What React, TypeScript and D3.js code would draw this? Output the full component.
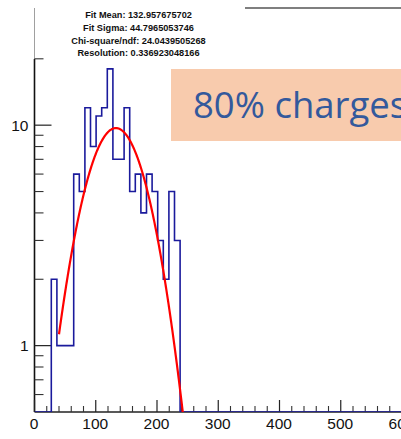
import React from "react";
import * as d3 from "d3";

// Histogram binning: 70 bins over [0, 640]; filled bins start at index 3
const histRange = [0, 640];
const nBins = 70;
const firstFilledBin = 3;
const binCounts = [2, 1, 1, 1, 6, 5, 12, 8, 11, 12, 18, 7, 7, 12, 5, 6, 4, 6, 5, 3, 2, 5, 3];

// Gaussian fit result
const fitMean = 132.957675702;
const fitSigma = 44.7965053746;
const fitAmplitude = 9.7;
const fitRange = [40, 250];

const statsLines = [
  "Fit Mean: 132.957675702",
  "Fit Sigma: 44.7965053746",
  "Chi-square/ndf: 24.0439505268",
  "Resolution: 0.336923048166",
];

const xMajorTicks = [0, 100, 200, 300, 400, 500, 600];
const xMinorStep = 20;
const yMajorTicks = [1, 10];
const yMinorTicks = [0.6, 0.7, 0.8, 0.9, 2, 3, 4, 5, 6, 7, 8, 9, 20];
const yRange = [0.5, 34];

const bannerText = "80% charges";

const W = 401;
const H = 439;
const frame = { left: 34.5, top: 8, bottom: 412, right: 426.5 };

export default function App() {
  const x = d3.scaleLinear().domain(histRange).range([frame.left, frame.right]);
  const y = d3.scaleLog().domain(yRange).range([frame.bottom, frame.top]);
  const bw = (histRange[1] - histRange[0]) / nBins;

  // step outline of the histogram, empty bins sitting on the frame floor
  const pts: [number, number][] = [];
  for (let i = 0; i < nBins; i++) {
    const j = i - firstFilledBin;
    const c = j >= 0 && j < binCounts.length ? binCounts[j] : 0;
    const yy = c > 0 ? y(c) : frame.bottom;
    pts.push([x(histRange[0] + i * bw), yy]);
    pts.push([x(histRange[0] + (i + 1) * bw), yy]);
  }
  const histPath = d3.line()(pts) || "";

  const fitPts: [number, number][] = d3
    .range(fitRange[0], fitRange[1] + 0.01, 0.5)
    .map((v) => [
      x(v),
      y(fitAmplitude * Math.exp(-((v - fitMean) ** 2) / (2 * fitSigma * fitSigma))),
    ]);
  const fitPath = d3.line()(fitPts) || "";

  const xMinor = d3.range(histRange[0], histRange[1] + 0.01, xMinorStep).filter((v) => v % 100 !== 0);

  const font = "'Liberation Sans', Arial, Helvetica, sans-serif";

  return (
    <svg
      width={W}
      height={H}
      style={{ position: "absolute", left: 0, top: 0, background: "#fff" }}
    >
      <defs>
        <clipPath id="frameClip">
          <rect x={frame.left} y={frame.top} width={frame.right - frame.left} height={frame.bottom - frame.top} />
        </clipPath>
      </defs>

      {/* banner */}
      <rect x={171} y={69} width={W - 171} height={72} fill="#f8cbad" />
      <text x={193} y={118} fontFamily="'Open Sans', 'Noto Sans', sans-serif" fontSize={36.5} fill="#33599c">
        {bannerText}
      </text>

      {/* top frame edge, partly hidden behind the stats box */}
      <line x1={245} x2={W} y1={frame.top} y2={frame.top} stroke="#000" strokeWidth={1.2} />

      {/* y axis */}
      <line x1={frame.left} x2={frame.left} y1={frame.top} y2={59} stroke="#a0a0a0" strokeWidth={1} />
      <line x1={frame.left} x2={frame.left} y1={59} y2={frame.bottom} stroke="#111" strokeWidth={1.6} />
      {yMajorTicks.map((t) => (
        <g key={"ym" + t}>
          <line x1={frame.left} x2={frame.left + 17} y1={y(t)} y2={y(t)} stroke="#222" strokeWidth={1.2} />
          <text x={28.5} y={y(t) + 5.8} textAnchor="end" fontFamily={font} fontSize={15.5} fill="#111">
            {t}
          </text>
        </g>
      ))}
      {yMinorTicks.map((t) => (
        <line key={"yn" + t} x1={frame.left} x2={frame.left + 9} y1={y(t)} y2={y(t)} stroke="#333" strokeWidth={1.1} />
      ))}

      {/* x axis */}
      <line x1={frame.left} x2={W} y1={frame.bottom} y2={frame.bottom} stroke="#222" strokeWidth={1.6} />
      {xMajorTicks.map((t) => (
        <g key={"xm" + t}>
          <line x1={x(t)} x2={x(t)} y1={frame.bottom} y2={frame.bottom - 12} stroke="#222" strokeWidth={1.2} />
          <text x={x(t) - 0.5} y={428.5} textAnchor="middle" fontFamily={font} fontSize={15.5} fill="#111">
            {t}
          </text>
        </g>
      ))}
      {xMinor.map((t) => (
        <line key={"xn" + t} x1={x(t)} x2={x(t)} y1={frame.bottom} y2={frame.bottom - 6} stroke="#333" strokeWidth={1.1} />
      ))}

      {/* histogram and fit */}
      <g clipPath="url(#frameClip)">
        <path d={histPath} fill="none" stroke="#1a1a9c" strokeWidth={1.6} />
        <path d={fitPath} fill="none" stroke="#ff0000" strokeWidth={2.2} />
      </g>

      {/* fit statistics */}
      {statsLines.map((s, i) => (
        <text
          key={s}
          x={138.5}
          y={18.3 + i * 12.6}
          textAnchor="middle"
          fontFamily={font}
          fontWeight="bold"
          fontSize={9.2}
          fill="#111"
        >
          {s}
        </text>
      ))}
    </svg>
  );
}
